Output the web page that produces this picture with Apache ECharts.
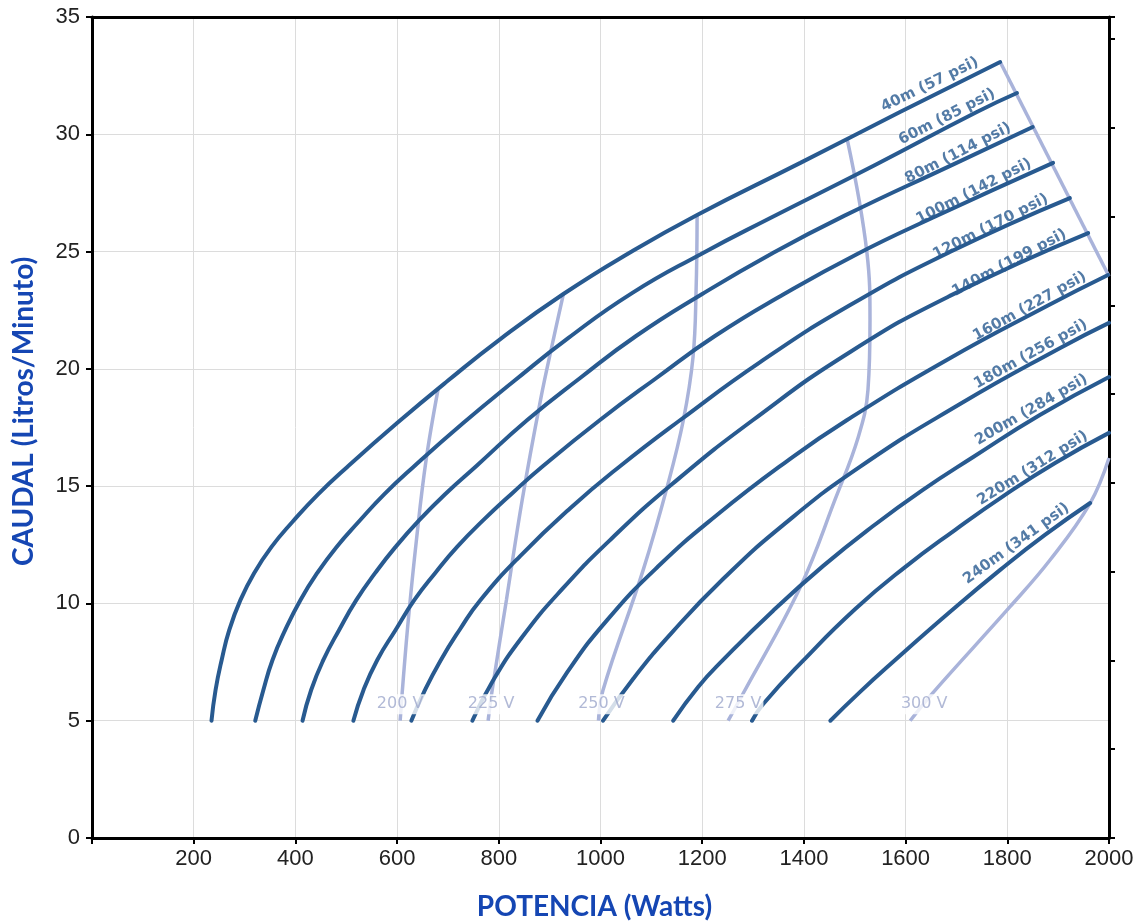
<!DOCTYPE html>
<html>
<head>
<meta charset="utf-8">
<title>Caudal vs Potencia</title>
<script src="https://cdn.jsdelivr.net/npm/echarts@6.0.0/dist/echarts.min.js"></script>
<style>
  html, body { margin: 0; padding: 0; background: #fff; }
  #chart { width: 1143px; height: 923px; }
</style>
</head>
<body>
<div id="chart"></div>
<script>
// curvas de altura: [potencia W, caudal L/min]
const head40 = [[235, 5.0], [243, 6.31], [255, 7.59], [270, 8.87], [292, 10.15], [319, 11.3], [353, 12.41], [394, 13.47], [445, 14.66], [502, 15.82], [600, 17.69], [699, 19.48], [803, 21.27], [927, 23.19], [1058, 24.96], [1190, 26.56], [1393, 28.78], [1589, 30.95], [1786, 33.08]]
const head60 = [[321, 5.0], [337, 6.31], [355, 7.59], [380, 8.87], [410, 10.15], [443, 11.3], [481, 12.41], [524, 13.47], [575, 14.66], [632, 15.82], [730, 17.69], [830, 19.48], [937, 21.32], [1062, 23.23], [1198, 24.9], [1334, 26.43], [1540, 28.69], [1740, 30.95], [1819, 31.76]]
const head80 = [[414, 5.0], [431, 6.31], [455, 7.59], [486, 8.87], [520, 10.15], [557, 11.3], [597, 12.41], [644, 13.56], [697, 14.71], [756, 15.86], [856, 17.82], [960, 19.61], [1070, 21.4], [1200, 23.19], [1339, 24.94], [1479, 26.52], [1695, 28.73], [1850, 30.31]]
const head100 = [[514, 5.0], [534, 6.31], [561, 7.59], [597, 8.87], [634, 10.15], [675, 11.3], [718, 12.41], [770, 13.56], [827, 14.71], [887, 15.86], [999, 17.82], [1110, 19.61], [1225, 21.4], [1361, 23.19], [1505, 24.9], [1652, 26.43], [1890, 28.78]]
const head120 = [[628, 5.0], [652, 6.18], [685, 7.55], [724, 8.91], [764, 10.15], [842, 12.02], [941, 14.07], [1039, 15.86], [1157, 17.82], [1314, 20.29], [1491, 22.72], [1687, 24.98], [1923, 27.28]]
const head140 = [[748, 5.0], [787, 6.65], [846, 8.57], [925, 10.62], [1023, 12.79], [1141, 15.09], [1300, 17.82], [1491, 20.72], [1687, 23.11], [1959, 25.79]]
const head160 = [[876, 5.0], [935, 7.08], [1013, 9.29], [1112, 11.55], [1229, 13.77], [1367, 16.07], [1485, 17.82], [1681, 20.38], [1878, 22.68], [1998, 24.0]]
const head180 = [[1005, 5.0], [1064, 6.78], [1143, 8.82], [1241, 11.04], [1359, 13.34], [1510, 15.82], [1707, 18.5], [1904, 20.89], [2000, 21.96]]
const head200 = [[1143, 5.0], [1192, 6.44], [1241, 7.59], [1339, 9.68], [1438, 11.6], [1536, 13.3], [1634, 14.84], [1733, 16.24], [1864, 18.03], [2000, 19.65]]
const head220 = [[1298, 5.0], [1320, 5.71], [1398, 7.55], [1501, 9.76], [1599, 11.55], [1697, 13.13], [1795, 14.62], [1894, 15.99], [2000, 17.27]]
const head240 = [[1452, 5.0], [1510, 6.22], [1575, 7.5], [1687, 9.63], [1786, 11.43], [1874, 12.92], [1963, 14.28]]
const headNames = ['40m (57 psi)', '60m (85 psi)', '80m (114 psi)', '100m (142 psi)', '120m (170 psi)', '140m (199 psi)',
  '160m (227 psi)', '180m (256 psi)', '200m (284 psi)', '220m (312 psi)', '240m (341 psi)']

// curvas de tension
const volt200 = [[606, 5.0], [612, 6.74], [622, 9.29], [638, 12.7], [657, 16.11], [681, 19.18]]
const volt225 = [[779, 5.0], [787, 6.31], [815, 10.15], [846, 14.41], [882, 18.67], [907, 21.23], [927, 23.19]]
const volt250 = [[996, 5.0], [1005, 6.31], [1084, 11.43], [1131, 14.96], [1163, 17.82], [1182, 20.51], [1188, 23.36], [1190, 26.56]]
const volt275 = [[1251, 5.0], [1281, 6.18], [1393, 10.7], [1461, 14.41], [1507, 17.1], [1526, 19.1], [1530, 22.08], [1524, 24.94], [1485, 29.8]]
const volt300 = [[1609, 5.0], [1654, 6.2], [1805, 9.85], [1884, 11.85], [1963, 14.28], [2000, 16.2]]
const voltNames = ['200 V', '225 V', '250 V', '275 V', '300 V']
// limite superior (fin de las curvas)
const limitLine = [[1786, 33.08], [2000, 23.95]]

const LPM_PER_GPM = 3.785

const heads = [head40, head60, head80, head100, head120, head140, head160, head180, head200, head220, head240]
const volts = [volt200, volt225, volt250, volt275, volt300]

// estilo
const DARK = '#285a90'
const LIGHT = '#a9b3da'
const TITLE = '#1546b3'
const headLabelAngle = [26, 27, 27, 27, 27, 28, 29, 29, 30, 32, 36]
const voltLabelDx = [0, 3, 3, 10, 14]

const chart = echarts.init(document.getElementById('chart'))

const axisLine = { show: true, onZero: false, lineStyle: { color: '#000', width: 3 } }
const axisTick = { show: true, length: 6, lineStyle: { color: '#000', width: 2 } }
const tickFont = { fontFamily: 'Liberation Sans', fontSize: 22, color: '#222' }
const nameFont = { fontFamily: 'Lato', fontWeight: 'bold', fontSize: 28, color: TITLE }

const series = []
volts.forEach((d, i) => {
  series.push({
    name: voltNames[i], type: 'line', data: d, smooth: 0.4, symbol: 'none',
    lineStyle: { color: LIGHT, width: 3.5 }, z: 2, silent: true
  })
})
series.push({
  name: 'limite', type: 'line', data: limitLine, symbol: 'none',
  lineStyle: { color: LIGHT, width: 3.5 }, z: 2, silent: true
})
heads.forEach((d, i) => {
  series.push({
    name: headNames[i], type: 'line', data: d, smooth: 0.5, symbol: 'none',
    lineStyle: { color: DARK, width: 4, cap: 'round' }, z: 3, silent: true
  })
})
// etiquetas de altura al final de cada curva
series.push({
  type: 'scatter', z: 6, silent: true, symbolSize: 1,
  itemStyle: { color: 'rgba(0,0,0,0)' },
  data: heads.map((d, i) => ({
    value: d[d.length - 1],
    label: { rotate: headLabelAngle[i], formatter: headNames[i] }
  })),
  label: {
    show: true, position: 'inside', align: 'right', verticalAlign: 'bottom',
    offset: [-20, -3], fontFamily: 'DejaVu Sans', fontWeight: 'bold', fontSize: 15, color: DARK
  }
})
// etiquetas de tension (fondo blanco tapa las curvas)
series.push({
  type: 'scatter', z: 8, silent: true, symbolSize: 1,
  itemStyle: { color: 'rgba(0,0,0,0)' },
  data: volts.map((d, i) => ({
    value: d[0],
    label: { formatter: voltNames[i], offset: [voltLabelDx[i], -16.5] }
  })),
  label: {
    show: true, position: 'inside', fontFamily: 'DejaVu Sans', fontSize: 16, color: '#9ea7cc',
    backgroundColor: '#fff', padding: [2, 2]
  }
})

chart.setOption({
  animation: false,
  backgroundColor: '#fff',
  grid: { left: 92, right: 34, top: 17, bottom: 85, containLabel: false, outerBoundsMode: 'none' },
  xAxis: [{
    type: 'value', min: 0, max: 2000, interval: 200, position: 'bottom',
    axisLine: axisLine, axisTick: axisTick,
    axisLabel: Object.assign({ margin: 10, formatter: v => (v === 0 ? '' : v) }, tickFont),
    splitLine: { show: true, lineStyle: { color: '#dcdcdc', width: 1 } },
    name: 'POTENCIA (Watts)', nameLocation: 'middle', nameGap: 55, nameMoveOverlap: false,
    nameTextStyle: Object.assign({ padding: [0, 12, 0, 0] }, nameFont)
  }, {
    type: 'value', min: 0, max: 2000, position: 'top',
    axisLine: axisLine, axisTick: { show: false }, axisLabel: { show: false }, splitLine: { show: false }
  }],
  yAxis: [{
    type: 'value', min: 0, max: 35, interval: 5, position: 'left',
    axisLine: axisLine, axisTick: axisTick,
    axisLabel: Object.assign({ margin: 12 }, tickFont),
    splitLine: { show: true, lineStyle: { color: '#dcdcdc', width: 1 } },
    name: 'CAUDAL (Litros/Minuto)', nameLocation: 'middle', nameGap: 54, nameMoveOverlap: false,
    nameTextStyle: Object.assign({ padding: [0, 0, 0, 32] }, nameFont)
  }, {
    // eje secundario en galones/min (solo marcas)
    type: 'value', min: 0, max: 35 / LPM_PER_GPM, interval: 1, position: 'right',
    axisLine: axisLine, axisTick: axisTick, axisLabel: { show: false }, splitLine: { show: false }
  }],
  series: series
})
</script>
</body>
</html>
